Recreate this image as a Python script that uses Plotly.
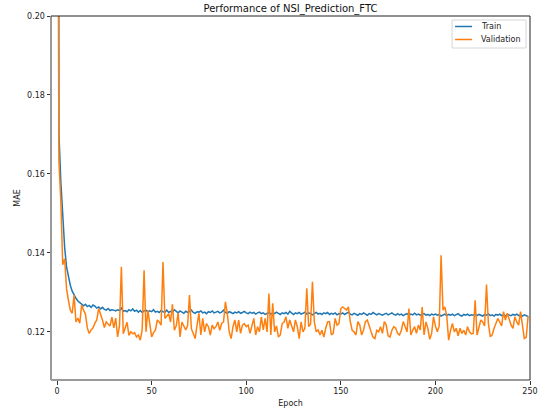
import plotly.graph_objects as go

# Training history: mean absolute error per epoch
epochs = list(range(250))

train_mae = [
    0.6000, 0.1700, 0.1580, 0.1485, 0.1415, 0.1365, 0.1338, 0.1318, 0.1303, 0.1292,
    0.1285, 0.1278, 0.1273, 0.1270, 0.1266, 0.1270, 0.1264, 0.1267, 0.1262, 0.1268,
    0.1265, 0.1260, 0.1263, 0.1258, 0.1262, 0.1257, 0.1255, 0.1259, 0.1254, 0.1256,
    0.1255, 0.1253, 0.1256, 0.1254, 0.1260, 0.1252, 0.1254, 0.1251, 0.1256, 0.1253,
    0.1258, 0.1252, 0.1255, 0.1250, 0.1254, 0.1249, 0.1253, 0.1255, 0.1250, 0.1253,
    0.1251, 0.1256, 0.1250, 0.1252, 0.1249, 0.1254, 0.1251, 0.1250, 0.1255, 0.1249,
    0.1252, 0.1250, 0.1256, 0.1251, 0.1248, 0.1253, 0.1250, 0.1247, 0.1252, 0.1249,
    0.1251, 0.1255, 0.1249, 0.1247, 0.1251, 0.1250, 0.1253, 0.1248, 0.1250, 0.1246,
    0.1251, 0.1249, 0.1253, 0.1248, 0.1250, 0.1252, 0.1248, 0.1250, 0.1255, 0.1249,
    0.1247, 0.1251, 0.1249, 0.1246, 0.1250, 0.1248, 0.1251, 0.1247, 0.1249, 0.1252,
    0.1248, 0.1246, 0.1250, 0.1247, 0.1249, 0.1245, 0.1248, 0.1250, 0.1246, 0.1248,
    0.1244, 0.1247, 0.1249, 0.1245, 0.1248, 0.1246, 0.1250, 0.1247, 0.1244, 0.1248,
    0.1246, 0.1249, 0.1245, 0.1252, 0.1247, 0.1244, 0.1248, 0.1246, 0.1249, 0.1245,
    0.1247, 0.1250, 0.1245, 0.1248, 0.1246, 0.1243, 0.1247, 0.1249, 0.1245, 0.1247,
    0.1244, 0.1248, 0.1246, 0.1249, 0.1244, 0.1247, 0.1245, 0.1248, 0.1243, 0.1246,
    0.1245, 0.1248, 0.1244, 0.1247, 0.1250, 0.1245, 0.1243, 0.1247, 0.1245, 0.1242,
    0.1246, 0.1244, 0.1248, 0.1245, 0.1242, 0.1246, 0.1244, 0.1249, 0.1245, 0.1243,
    0.1246, 0.1244, 0.1242, 0.1245, 0.1247, 0.1243, 0.1245, 0.1248, 0.1244, 0.1242,
    0.1246, 0.1243, 0.1245, 0.1241, 0.1244, 0.1246, 0.1242, 0.1245, 0.1243, 0.1247,
    0.1243, 0.1245, 0.1242, 0.1244, 0.1246, 0.1242, 0.1244, 0.1241, 0.1245, 0.1243,
    0.1245, 0.1242, 0.1244, 0.1240, 0.1243, 0.1245, 0.1241, 0.1244, 0.1242, 0.1245,
    0.1241, 0.1243, 0.1246, 0.1242, 0.1240, 0.1244, 0.1242, 0.1245, 0.1241, 0.1243,
    0.1242, 0.1245, 0.1241, 0.1244, 0.1242, 0.1240, 0.1244, 0.1242, 0.1246, 0.1241,
    0.1243, 0.1240, 0.1244, 0.1242, 0.1245, 0.1241, 0.1243, 0.1240, 0.1244, 0.1242,
    0.1241, 0.1244, 0.1242, 0.1245, 0.1241, 0.1243, 0.1240, 0.1243, 0.1241, 0.1239,
]

val_mae = [
    0.3000, 0.1630, 0.1530, 0.1370, 0.1385, 0.1310, 0.1280, 0.1255, 0.1247, 0.1293,
    0.1225, 0.1235, 0.1222, 0.1268, 0.1255, 0.1245, 0.1210, 0.1196, 0.1205, 0.1210,
    0.1222, 0.1230, 0.1259, 0.1245, 0.1230, 0.1211, 0.1225, 0.1220, 0.1215, 0.1237,
    0.1210, 0.1235, 0.1187, 0.1215, 0.1365, 0.1195, 0.1210, 0.1224, 0.1191, 0.1200,
    0.1195, 0.1198, 0.1187, 0.1192, 0.1179, 0.1205, 0.1356, 0.1200, 0.1255, 0.1213,
    0.1187, 0.1198, 0.1204, 0.1230, 0.1225, 0.1217, 0.1377, 0.1234, 0.1240, 0.1246,
    0.1225, 0.1270, 0.1204, 0.1215, 0.1248, 0.1187, 0.1225, 0.1213, 0.1205, 0.1215,
    0.1293, 0.1208, 0.1195, 0.1183, 0.1217, 0.1247, 0.1192, 0.1234, 0.1200, 0.1221,
    0.1213, 0.1192, 0.1217, 0.1208, 0.1213, 0.1225, 0.1204, 0.1221, 0.1225, 0.1276,
    0.1247, 0.1200, 0.1183, 0.1213, 0.1230, 0.1200, 0.1230, 0.1196, 0.1217, 0.1221,
    0.1213, 0.1217, 0.1196, 0.1213, 0.1234, 0.1192, 0.1213, 0.1200, 0.1238, 0.1205,
    0.1234, 0.1200, 0.1297, 0.1192, 0.1272, 0.1200, 0.1215, 0.1187, 0.1192, 0.1221,
    0.1225, 0.1238, 0.1209, 0.1230, 0.1217, 0.1200, 0.1230, 0.1213, 0.1183, 0.1225,
    0.1200, 0.1209, 0.1310, 0.1213, 0.1220, 0.1327, 0.1225, 0.1200, 0.1205, 0.1192,
    0.1204, 0.1187, 0.1209, 0.1225, 0.1226, 0.1192, 0.1196, 0.1234, 0.1217, 0.1221,
    0.1259, 0.1263, 0.1259, 0.1255, 0.1263, 0.1226, 0.1204, 0.1200, 0.1192, 0.1226,
    0.1217, 0.1192, 0.1204, 0.1226, 0.1230, 0.1213, 0.1200, 0.1187, 0.1183, 0.1204,
    0.1200, 0.1213, 0.1196, 0.1226, 0.1217, 0.1190, 0.1187, 0.1204, 0.1213, 0.1209,
    0.1196, 0.1192, 0.1204, 0.1226, 0.1213, 0.1200, 0.1259, 0.1192, 0.1204, 0.1213,
    0.1196, 0.1217, 0.1205, 0.1263, 0.1192, 0.1225, 0.1209, 0.1181, 0.1196, 0.1238,
    0.1215, 0.1200, 0.1215, 0.1394, 0.1255, 0.1263, 0.1240, 0.1179, 0.1204, 0.1221,
    0.1200, 0.1209, 0.1190, 0.1209, 0.1196, 0.1204, 0.1192, 0.1213, 0.1200, 0.1195,
    0.1196, 0.1280, 0.1192, 0.1213, 0.1230, 0.1225, 0.1215, 0.1320, 0.1221, 0.1188,
    0.1192, 0.1209, 0.1221, 0.1234, 0.1225, 0.1215, 0.1251, 0.1230, 0.1247, 0.1230,
    0.1217, 0.1209, 0.1238, 0.1225, 0.1217, 0.1251, 0.1209, 0.1183, 0.1186, 0.1240,
]

x_ticks = [0, 50, 100, 150, 200, 250]
y_ticks = [0.12, 0.14, 0.16, 0.18, 0.20]

BLUE = "#1f77b4"
ORANGE = "#ff7f0e"
FONT = "DejaVu Sans"
TEXT = "#222"

# Plot-area geometry in pixels
W, H = 541, 412
L, R, T, B = 50.5, 11, 16, 32
PW, PH = W - L - R, H - T - B


def px_x(px):
    return (px - L) / PW


def px_y(py):
    return (H - B - py) / PH


fig = go.Figure()
fig.add_trace(go.Scatter(x=epochs, y=train_mae, mode="lines", name="Train",
                         line=dict(color=BLUE, width=1.5), showlegend=False))
fig.add_trace(go.Scatter(x=epochs, y=val_mae, mode="lines", name="Validation",
                         line=dict(color=ORANGE, width=1.5), showlegend=False))

axis_common = dict(showgrid=False, zeroline=False, showline=False, automargin=False,
                   ticks="outside", ticklen=3.5, tickwidth=1, tickcolor="#333",
                   tickfont=dict(family=FONT, size=8, color=TEXT))

fig.update_xaxes(range=[-3.2, 250], tickvals=x_ticks,
                 title=dict(text="Epoch", font=dict(family=FONT, size=8, color=TEXT), standoff=5),
                 **axis_common)
fig.update_yaxes(range=[0.1078, 0.2], tickvals=y_ticks, tickformat=".2f",
                 title=dict(text="MAE", font=dict(family=FONT, size=8, color=TEXT), standoff=5),
                 **axis_common)

# Frame: lighter left/bottom spines, dark top/right spines
fig.add_shape(type="line", xref="paper", yref="paper", x0=0, x1=0, y0=0, y1=1,
              line=dict(color="#9a9a9a", width=2))
fig.add_shape(type="line", xref="paper", yref="paper", x0=0, x1=1, y0=0, y1=0,
              line=dict(color="#9a9a9a", width=2))
fig.add_shape(type="line", xref="paper", yref="paper", x0=0, x1=1, y0=1, y1=1,
              line=dict(color="#222", width=1))
fig.add_shape(type="line", xref="paper", yref="paper", x0=1, x1=1, y0=0, y1=1,
              line=dict(color="#222", width=1))

# Legend box in the upper-right corner of the axes
fig.add_shape(type="rect", xref="paper", yref="paper",
              x0=px_x(452), x1=px_x(526), y0=px_y(48), y1=px_y(20),
              line=dict(color="#d6d6d6", width=1), fillcolor="white", layer="above")
for name, color, py in [("Train", BLUE, 26.5), ("Validation", ORANGE, 39.5)]:
    fig.add_shape(type="line", xref="paper", yref="paper",
                  x0=px_x(455), x1=px_x(472), y0=px_y(py), y1=px_y(py),
                  line=dict(color=color, width=1.5), layer="above")
    fig.add_annotation(text=name, xref="paper", yref="paper", x=px_x(479), y=px_y(py),
                       xanchor="left", yanchor="middle", showarrow=False,
                       font=dict(family=FONT, size=8, color=TEXT))

fig.update_layout(
    width=W, height=H,
    margin=dict(l=L, r=R, t=T, b=B),
    paper_bgcolor="white", plot_bgcolor="white",
    title=dict(text="Performance of NSI_Prediction_FTC", x=0.5, xref="paper",
               y=(H - 8) / H, yref="container", yanchor="middle", xanchor="center",
               font=dict(family=FONT, size=10, color="#111")),
    showlegend=False,
)

fig.write_html("out.html")
